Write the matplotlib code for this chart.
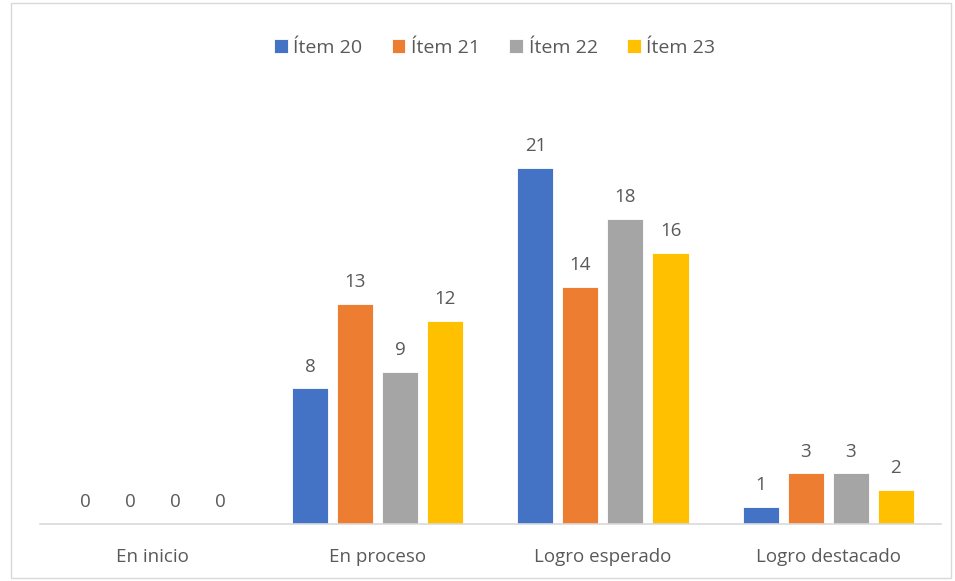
import numpy as np
import matplotlib.pyplot as plt
from matplotlib.patches import Rectangle

categorias = ["En inicio", "En proceso", "Logro esperado", "Logro destacado"]
series = ["Ítem 20", "Ítem 21", "Ítem 22", "Ítem 23"]
item20 = [0, 8, 21, 1]
item21 = [0, 13, 14, 3]
item22 = [0, 9, 18, 3]
item23 = [0, 12, 16, 2]
colores = ["#4472C4", "#ED7D31", "#A5A5A5", "#FFC000"]

plt.rcParams["font.family"] = ["Open Sans", "DejaVu Sans"]
texto = "#595959"

fig = plt.figure(figsize=(9.55, 5.81), dpi=100)
ax = fig.add_axes([0.042, 0.098, 0.943, 0.70])

x = np.arange(len(categorias))
ancho = 0.16
paso = 0.2
for i, (nombre, valores) in enumerate(zip(series, [item20, item21, item22, item23])):
    pos = x + (i - 1.5) * paso
    barras = ax.bar(pos, valores, ancho, color=colores[i], label=nombre,
                    edgecolor="white", linewidth=0.6)
    for p, v in zip(pos, valores):
        ax.text(p, v + 0.75, str(v), ha="center", va="bottom", fontsize=13.5, color=texto)

ax.set_xlim(-0.5, 3.5)
ax.set_ylim(0, 24)
ax.set_xticks(x)
ax.set_xticklabels(categorias, fontsize=13.5, color=texto)
ax.tick_params(axis="x", length=0, pad=17)
ax.set_yticks([])
for s in ["top", "right", "left"]:
    ax.spines[s].set_visible(False)
ax.spines["bottom"].set_color("#D9D9D9")
ax.spines["bottom"].set_linewidth(1.2)

ax.legend(loc="upper center", bbox_to_anchor=(0.518, 1.0), bbox_transform=fig.transFigure,
          ncol=4, frameon=False, fontsize=14, labelcolor=texto,
          handlelength=0.7, handleheight=0.7, handletextpad=0.3, columnspacing=1.5,
          borderaxespad=1.6)

fig.patches.append(Rectangle((0.012, 0.005), 0.984, 0.99, transform=fig.transFigure,
                             fill=False, edgecolor="#D9D9D9", linewidth=1))

fig.savefig("out.png", dpi=100)
